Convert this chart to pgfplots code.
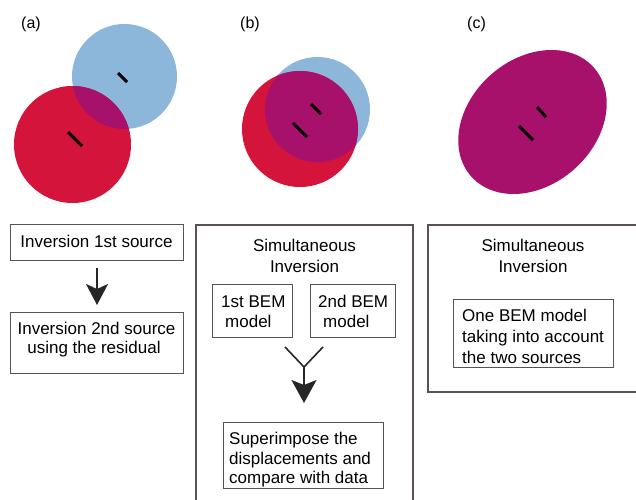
\documentclass[border=0pt]{standalone}
\usepackage{pgfplots}
\pgfplotsset{compat=1.18}
\usepackage{fontspec}
\setmainfont{Liberation Sans}
\usetikzlibrary{arrows.meta}
\definecolor{cred}{HTML}{D4143A}
\definecolor{cblue}{HTML}{8CB6DA}
\definecolor{cpurp}{HTML}{A8116B}
\definecolor{cbox}{HTML}{5A5252}
\begin{document}
\begin{tikzpicture}
\begin{axis}[x=1pt,y=1pt,xmin=0,xmax=636,ymin=0,ymax=499,hide axis,clip=false,
  anchor=origin, at={(0,0)}]
% ---- panel labels
\node[anchor=base,font=\fontsize{16}{19}\selectfont] at (axis cs:31,470.5) {(a)};
\node[anchor=base,font=\fontsize{16}{19}\selectfont] at (axis cs:250,470.5) {(b)};
\node[anchor=base,font=\fontsize{16}{19}\selectfont] at (axis cs:476.5,470.5) {(c)};
% ---- (a)
\fill[cblue] (axis cs:124.5,422.5) circle[radius=52.5pt];
\fill[cred] (axis cs:72.5,354.5) circle[radius=58.5pt];
\begin{scope}
\clip (axis cs:124.5,422.5) circle[radius=52.5pt];
\fill[cpurp] (axis cs:72.5,354.5) circle[radius=58.5pt];
\end{scope}
\addplot[black,line width=3pt,forget plot] coordinates {(118,426) (127,417)};
\addplot[black,line width=3pt,forget plot] coordinates {(68,367) (82,353)};
% ---- (b)
\fill[cblue] (axis cs:317.5,389.5) circle[radius=52.5pt];
\fill[cred] (axis cs:300,370) circle[radius=58pt];
\begin{scope}
\clip (axis cs:317.5,389.5) circle[radius=52.5pt];
\fill[cpurp] (axis cs:300,370) circle[radius=58pt];
\end{scope}
\addplot[black,line width=3pt,forget plot] coordinates {(311,395) (321,385)};
\addplot[black,line width=3pt,forget plot] coordinates {(293,376) (307,362)};
% ---- (c)
\fill[cpurp,rotate around={41.6:(axis cs:532.5,377)}] (axis cs:532.5,377) ellipse[x radius=82pt,y radius=63pt];
\addplot[black,line width=3pt,forget plot] coordinates {(537,392) (546,382)};
\addplot[black,line width=3pt,forget plot] coordinates {(519,373) (533,359)};
% ---- boxes (a)
\draw[cbox,line width=1pt] (axis cs:10,275) rectangle (axis cs:183,239);
\node[anchor=base,font=\fontsize{17}{20}\selectfont] at (axis cs:96.5,252) {Inversion 1st source};
\draw[black!85,line width=1.6pt,-{Stealth[length=21pt,width=22pt,inset=5pt]}] (axis cs:97,231) -- (axis cs:97,194);
\draw[cbox,line width=1pt] (axis cs:10,187) rectangle (axis cs:183,126);
\node[anchor=base,font=\fontsize{17}{20}\selectfont] at (axis cs:96.5,165) {Inversion 2nd source};
\node[anchor=base,font=\fontsize{17}{20}\selectfont] at (axis cs:94,145.5) {using the residual};
% ---- boxes (b)
\draw[cbox,line width=1.3pt] (axis cs:196,-10) -- (axis cs:196,274) -- (axis cs:413,274) -- (axis cs:413,-10);
\node[anchor=base,font=\fontsize{17}{20}\selectfont] at (axis cs:304.5,248) {Simultaneous};
\node[anchor=base,font=\fontsize{17}{20}\selectfont] at (axis cs:304.5,227) {Inversion};
\draw[cbox,line width=1pt] (axis cs:212,215) rectangle (axis cs:292,162);
\node[anchor=base west,font=\fontsize{17}{20}\selectfont,inner xsep=0pt] at (axis cs:221,192) {1st BEM};
\node[anchor=base west,font=\fontsize{17}{20}\selectfont,inner xsep=0pt] at (axis cs:225,172) {model};
\draw[cbox,line width=1pt] (axis cs:310,215) rectangle (axis cs:395,162);
\node[anchor=base west,font=\fontsize{17}{20}\selectfont,inner xsep=0pt] at (axis cs:318,192) {2nd BEM};
\node[anchor=base west,font=\fontsize{17}{20}\selectfont,inner xsep=0pt] at (axis cs:323,172) {model};
\draw[black!85,line width=1.6pt] (axis cs:285,152) -- (axis cs:304,132) -- (axis cs:323,152);
\draw[black!85,line width=1.6pt,-{Stealth[length=23pt,width=25pt,inset=5pt]}] (axis cs:304,132.8) -- (axis cs:304,96);
\draw[cbox,line width=1pt] (axis cs:223,77) rectangle (axis cs:383,11);
\node[anchor=base west,font=\fontsize{17}{20}\selectfont,inner xsep=0pt] at (axis cs:229,55) {Superimpose the};
\node[anchor=base west,font=\fontsize{17}{20}\selectfont,inner xsep=0pt] at (axis cs:229,35) {displacements and};
\node[anchor=base west,font=\fontsize{17}{20}\selectfont,inner xsep=0pt] at (axis cs:229,15.5) {compare with data};
% ---- boxes (c)
\draw[cbox,line width=1.3pt] (axis cs:645,107) -- (axis cs:428,107) -- (axis cs:428,274) -- (axis cs:645,274);
\node[anchor=base,font=\fontsize{17}{20}\selectfont] at (axis cs:533,248) {Simultaneous};
\node[anchor=base,font=\fontsize{17}{20}\selectfont] at (axis cs:533,227) {Inversion};
\draw[cbox,line width=1pt] (axis cs:453,200) rectangle (axis cs:613,132);
\node[anchor=base west,font=\fontsize{17}{20}\selectfont,inner xsep=0pt] at (axis cs:462,178) {One BEM model};
\node[anchor=base west,font=\fontsize{17}{20}\selectfont,inner xsep=0pt] at (axis cs:462,157) {taking into account};
\node[anchor=base west,font=\fontsize{17}{20}\selectfont,inner xsep=0pt] at (axis cs:462,136) {the two sources};
\end{axis}
\pgfresetboundingbox
\path[use as bounding box] (0,0) rectangle (636pt,499pt);
\end{tikzpicture}
\end{document}
